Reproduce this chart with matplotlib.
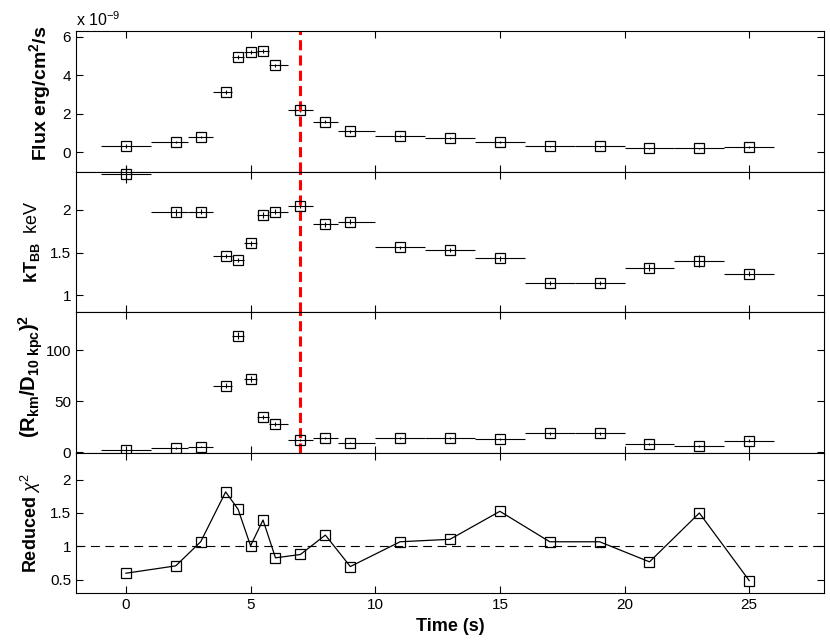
import numpy as np
import matplotlib
matplotlib.use('Agg')
import matplotlib.pyplot as plt

plt.rcParams['font.family'] = ['Liberation Sans', 'DejaVu Sans']
plt.rcParams['mathtext.fontset'] = 'custom'
plt.rcParams['mathtext.rm'] = 'Liberation Sans'
plt.rcParams['mathtext.it'] = 'Liberation Sans:italic'
plt.rcParams['mathtext.bf'] = 'Liberation Sans:bold'

# time bins (s): marker position and bin edges
t = np.array([0, 2, 3, 4, 4.5, 5, 5.5, 6, 7, 8, 9, 11, 13, 15, 17, 19, 21, 23, 25])
t_lo = np.array([-1, 1, 2.5, 3.5, 4.25, 4.75, 5.25, 5.75, 6.5, 7.5, 8.5, 10, 12, 14, 16, 18, 20, 22, 24])
t_hi = np.array([1, 2.5, 3.5, 4.25, 4.75, 5.25, 5.75, 6.5, 7.5, 8.5, 10, 12, 14, 16, 18, 20, 22, 24, 26])

# flux in units of 1e-9 erg/cm2/s
flux = [0.33, 0.54, 0.80, 3.14, 4.96, 5.22, 5.26, 4.51, 2.19, 1.60, 1.09, 0.83, 0.76, 0.54, 0.31, 0.31, 0.21, 0.21, 0.28]
flux_err = [0.08, 0.07, 0.07, 0.09, 0.11, 0.11, 0.11, 0.09, 0.08, 0.07, 0.06, 0.05, 0.05, 0.04, 0.03, 0.03, 0.03, 0.03, 0.04]

kt = [2.42, 1.97, 1.98, 1.46, 1.41, 1.61, 1.94, 1.98, 2.05, 1.83, 1.86, 1.56, 1.53, 1.43, 1.14, 1.14, 1.32, 1.40, 1.25]
kt_err = [0.10, 0.04, 0.03, 0.02, 0.02, 0.03, 0.03, 0.03, 0.03, 0.03, 0.03, 0.02, 0.02, 0.03, 0.02, 0.02, 0.04, 0.07, 0.03]

norm = [2.0, 4.0, 5.5, 65.3, 114.3, 71.9, 34.3, 27.7, 12.0, 14.0, 9.4, 14.0, 14.0, 13.0, 18.6, 18.6, 7.8, 6.2, 11.4]
norm_err = [1.0, 0.8, 0.8, 2.5, 3.5, 3.0, 2.0, 1.5, 1.0, 1.0, 0.8, 0.8, 0.8, 1.0, 1.5, 1.5, 1.0, 1.0, 1.5]

chi2 = [0.60, 0.71, 1.07, 1.815, 1.555, 1.01, 1.395, 0.83, 0.88, 1.17, 0.70, 1.07, 1.107, 1.525, 1.07, 1.07, 0.77, 1.50, 0.49]

t_peak = 7

xerr = [t - t_lo, t_hi - t]

fig, axes = plt.subplots(4, 1, sharex=True, figsize=(8.3, 6.41), dpi=100)
fig.subplots_adjust(left=0.0916, right=0.9928, top=0.9516, bottom=0.0744, hspace=0)

mk = dict(fmt='s', mfc='none', mec='black', ms=6.5, mew=0.9, ecolor='black',
          elinewidth=0.8, capsize=0, clip_on=False)

ax1, ax2, ax3, ax4 = axes
ax1.errorbar(t, flux, xerr=xerr, yerr=flux_err, **mk)
ax2.errorbar(t, kt, xerr=xerr, yerr=kt_err, **mk)
ax3.errorbar(t, norm, xerr=xerr, yerr=norm_err, **mk)
ax4.plot(t, chi2, '-s', color='black', lw=0.9, mfc='none', mec='black', ms=6.5, mew=0.9, clip_on=False)
ax4.axhline(1, color='black', lw=0.8, dashes=(8, 5))

for ax in (ax1, ax2, ax3):
    ax.axvline(t_peak, color='red', lw=2.2, dashes=(3.3, 1.7))

ax1.set_ylim(-1.0, 6.3)
ax1.set_yticks([0, 2, 4, 6])
ax2.set_ylim(0.8, 2.45)
ax2.set_yticks([1, 1.5, 2])
ax2.set_yticklabels(['1', '1.5', '2'])
ax3.set_ylim(-0.5, 137.5)
ax3.set_yticks([0, 50, 100])
ax4.set_ylim(0.3, 2.4)
ax4.set_yticks([0.5, 1, 1.5, 2])
ax4.set_yticklabels(['0.5', '1', '1.5', '2'])

ax4.set_xlim(-2, 28)
ax4.set_xticks([0, 5, 10, 15, 20, 25])

for ax in axes:
    ax.tick_params(direction='in', top=True, right=True, length=5, width=0.8, labelsize=11)

lab = 13
ax1.set_ylabel(r'Flux erg/cm$^\mathbf{2}$/s', fontsize=14, fontweight='bold')
ax2.set_ylabel(r'$\mathbf{kT_{BB}}$  keV', fontsize=lab)
ax3.set_ylabel(r'$\mathbf{(R_{km}/D_{10\ kpc})^2}$', fontsize=14.5)
ax4.set_ylabel(r'$\mathbf{Reduced}\ \chi^2$', fontsize=lab)
ax4.set_xlabel('Time (s)', fontsize=lab, fontweight='bold')

ax1.yaxis.set_label_coords(-0.031, 0.553)
ax2.yaxis.set_label_coords(-0.0455, 0.5)
ax3.yaxis.set_label_coords(-0.041, 0.54)
ax4.yaxis.set_label_coords(-0.044, 0.5)

fig.text(76 / 830, 1 - 20 / 641, r'x 10$^{-9}$', fontsize=11.5, ha='left', va='center')

plt.savefig('out.png', dpi=100)
